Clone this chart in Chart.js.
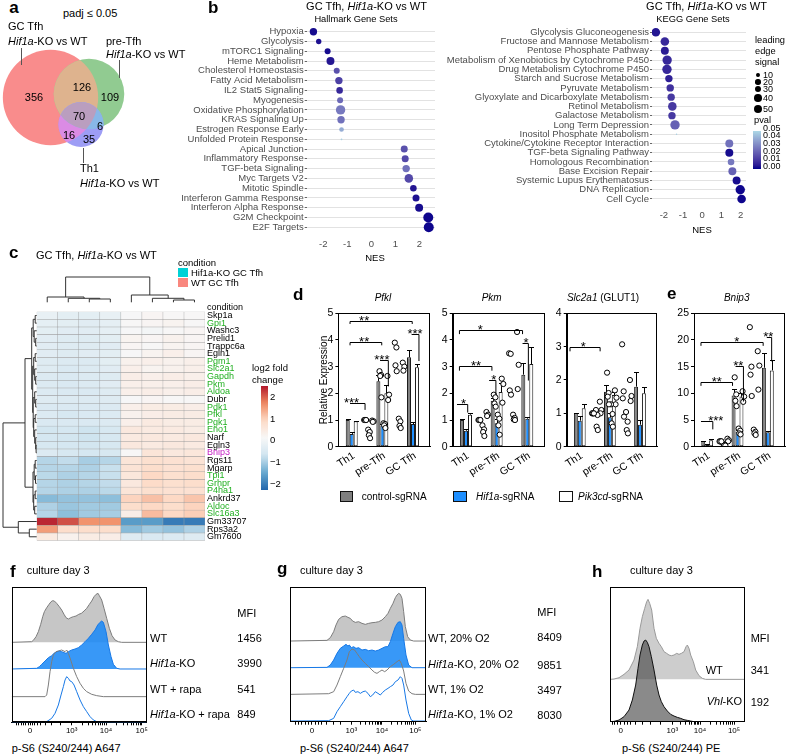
<!DOCTYPE html>
<html><head><meta charset="utf-8">
<script src="https://cdn.jsdelivr.net/npm/chart.js@4.4.1/dist/chart.umd.min.js"></script>
<style>
html,body{margin:0;padding:0;background:#fff;}
body{width:786px;height:756px;position:relative;overflow:hidden;font-family:"Liberation Sans",Arial,Helvetica,sans-serif;}
canvas{position:absolute;}
.t{position:absolute;white-space:nowrap;line-height:1;color:#000;}
.bx{position:absolute;box-sizing:border-box;}
</style></head><body>
<script>
// ================= DATA =================
// (a) Venn region counts
const vennSetNames = ['GC Tfh', 'pre-Tfh', 'Th1'];
const vennOnly = [356, 109, 35];      // GC only, pre only, Th1 only
const vennPairs = [126, 6, 16];       // GC&pre, pre&Th1, GC&Th1
const vennAll = 70;

// (b) GSEA
const hallmarkSets = ['Hypoxia','Glycolysis','mTORC1 Signaling','Heme Metabolism','Cholesterol Homeostasis','Fatty Acid Metabolism','IL2 Stat5 Signaling','Myogenesis','Oxidative Phosphorylation','KRAS Signaling Up','Estrogen Response Early','Unfolded Protein Response','Apical Junction','Inflammatory Response','TGF-beta Signaling','Myc Targets V2','Mitotic Spindle','Interferon Gamma Response','Interferon Alpha Response','G2M Checkpoint','E2F Targets'];
const hallmarkNES = [-2.41,-2.19,-1.82,-1.70,-1.44,-1.35,-1.32,-1.30,-1.28,-1.26,-1.24,-1.24,1.37,1.41,1.45,1.56,1.75,1.86,1.99,2.37,2.39];
const hallmarkSize = [38,20,25,44,25,38,30,25,61,38,15,2,34,34,38,51,30,34,44,69,69];
const hallmarkP = [0.002,0.003,0.002,0.004,0.018,0.014,0.008,0.024,0.028,0.026,0.040,0.048,0.018,0.016,0.026,0.016,0.004,0.003,0.002,0.001,0.001];
const keggSets = ['Glycolysis Gluconeogenesis','Fructose and Mannose Metabolism','Pentose Phosphate Pathway','Metabolism of Xenobiotics by Cytochrome P450','Drug Metabolism Cytochrome P450','Starch and Sucrose Metabolism','Pyruvate Metabolism','Glyoxylate and Dicarboxylate Metabolism','Retinol Metabolism','Galactose Metabolism','Long Term Depression','Inositol Phosphate Metabolism','Cytokine/Cytokine Receptor Interaction','TGF-beta Signaling Pathway','Homologous Recombination','Base Excision Repair','Systemic Lupus Erythematosus','DNA Replication','Cell Cycle'];
const keggNES = [-2.42,-1.95,-1.95,-1.83,-1.84,-1.74,-1.67,-1.62,-1.56,-1.58,-1.42,-1.34,1.41,1.41,1.50,1.57,1.79,1.98,2.05];
const keggSize = [51,51,44,61,61,38,38,38,51,38,61,1.4,44,44,30,44,44,61,51];
const keggP = [0.004,0.008,0.005,0.008,0.008,0.006,0.010,0.012,0.012,0.012,0.022,0.048,0.026,0.002,0.028,0.022,0.002,0.001,0.001];
const nesTicks = [-2,-1,0,1,2];
const sizeLegend = [10,20,30,40,50];
const pvalLegend = ['0.05','0.04','0.03','0.02','0.01','0.00'];

// (c) heatmap
const heatCondition = ['Hif1a-KO GC Tfh','Hif1a-KO GC Tfh','Hif1a-KO GC Tfh','Hif1a-KO GC Tfh','WT GC Tfh','WT GC Tfh','WT GC Tfh','WT GC Tfh'];
const heatGenes = ['Skp1a','Gpi1','Washc3','Prelid1','Trappc6a','Egln1','Pgm1','Slc2a1','Gapdh','Pkm','Aldoa','Dubr','Pdk1','Pfkl','Pgk1','Eno1','Narf','Egln3','Bnip3','Rgs11','Mgarp','Tpi1','Grhpr','P4ha1','Ankrd37','Aldoc','Slc16a3','Gm33707','Rps3a2','Gm7600'];
const heatGeneClass = ['k','g','k','k','k','k','g','g','g','g','g','k','g','g','g','g','k','k','m','k','k','g','g','g','k','g','g','k','k','k'];
const heatLFC = [
[-0.25,-0.35,-0.35,-0.25, 0.05,0.15,0.10,0.10],
[-0.30,-0.35,-0.40,-0.30, 0.10,0.15,0.20,0.10],
[-0.35,-0.40,-0.40,-0.30, 0.05,0.00,0.10,0.15],
[-0.40,-0.45,-0.45,-0.35, 0.20,0.15,0.25,0.15],
[-0.40,-0.45,-0.45,-0.40, 0.15,0.10,0.20,0.15],
[-0.40,-0.45,-0.40,-0.35, 0.05,0.20,0.30,0.15],
[-0.45,-0.50,-0.50,-0.35, 0.25,0.30,0.25,0.30],
[-0.45,-0.55,-0.50,-0.40, 0.30,0.20,0.25,0.30],
[-0.50,-0.55,-0.50,-0.45, 0.35,0.30,0.35,0.30],
[-0.50,-0.55,-0.50,-0.40, 0.30,0.30,0.30,0.35],
[-0.50,-0.55,-0.55,-0.45, 0.30,0.35,0.30,0.35],
[-0.45,-0.50,-0.50,-0.45, 0.05,0.15,0.10,0.10],
[-0.55,-0.55,-0.55,-0.50, 0.30,0.40,0.40,0.35],
[-0.50,-0.60,-0.55,-0.50, 0.25,0.35,0.40,0.40],
[-0.55,-0.55,-0.55,-0.50, 0.30,0.45,0.40,0.40],
[-0.70,-0.65,-0.75,-0.60, 0.50,0.45,0.45,0.40],
[-0.65,-0.70,-0.75,-0.60, 0.45,0.50,0.45,0.50],
[-0.60,-0.65,-0.70,-0.60, 0.50,0.45,0.50,0.45],
[-0.50,-0.60,-0.65,-0.60, 0.10,0.60,0.50,0.55],
[-0.95,-0.85,-1.05,-0.95, 0.60,0.75,0.70,0.65],
[-0.95,-0.95,-1.00,-0.80, 0.65,0.80,0.70,0.75],
[-0.90,-1.00,-0.95,-0.80, 0.55,0.90,0.75,0.80],
[-0.95,-1.00,-0.95,-0.85, 0.50,0.85,0.75,0.80],
[-0.95,-1.00,-1.00,-0.90, 0.60,0.75,0.70,0.70],
[-1.30,-1.20,-1.20,-1.25, 0.95,1.15,0.90,1.10],
[-1.00,-1.15,-1.10,-1.10, 0.80,0.90,0.80,0.95],
[-0.95,-1.25,-1.10,-1.05, 0.35,1.20,0.90,1.00],
[ 2.40, 2.10, 1.60, 1.60,-1.70,-1.70,-2.10,-2.10],
[ 1.50, 0.80, 0.80, 0.80,-1.30,-1.10,-1.20,-1.00],
[ 0.45, 0.25, 0.40, 0.35,-0.45,-0.55,-0.50,-0.45]
];
const heatLegendTicks = [2,1,0,-1,-2];
// dendrograms: [height, left, right], leaves = index
const rowDendro = [33.7,
  [11.7,
    [5,[3.5,[1.5,0,1],[2.5,2,[1,3,4]]],[4,[3,[1.5,5,6],[2,7,[1,8,9]]],[3.5,[2,10,[1,11,12]],[3,[1.5,13,14],[2,15,[1,16,[0.6,17,18]]]]]]],
    [3.7,[2.5,[1.5,19,20],[1.2,21,22]],[3,[1.5,23,24],[2,25,26]]]],
  [18.4,27,[7.4,28,29]]];
const colDendro = [25.3,[5.3,0,[4,1,[3.3,2,3]]],[7.3,4,[4,5,[2.3,6,7]]]];

// (d,e) qPCR
const qpcrGroups = ['Th1','pre-Tfh','GC Tfh'];
const qpcrSeries = ['control-sgRNA','Hif1a-sgRNA','Pik3cd-sgRNA'];
const pfklMean = [[1.0,2.45,3.35],[0.48,0.80,0.85],[0.95,2.0,2.98]];
const pfklSem  = [[0.02,0.22,0.27],[0.07,0.05,0.08],[0.02,0.32,0.12]];
const pfklPts  = [[[1,1,1,1],[2.83,2.69,2.65,1.85],[3.9,3.72,3.05,2.83]],[[0.64,0.55,0.43,0.32],[0.88,0.85,0.8,0.7],[1.05,0.95,0.78,0.7]],[[0.98,0.95,0.93],[2.65,1.95,1.75],[3.15,3.0,2.85]]];
const pkmMean = [[1.0,1.72,2.7],[0.6,0.88,1.05],[1.2,2.05,3.1]];
const pkmSem  = [[0.02,0.1,0.45],[0.08,0.17,0.05],[0.08,0.32,0.62]];
const pkmPts  = [[[1,1,1,1],[1.95,1.85,1.62,1.5],[3.5,3.48,2.11,1.95]],[[0.8,0.65,0.55,0.4],[1.2,1.05,0.8,0.45],[1.2,1.08,1.02,1.0]],[[1.3,1.2,1.15],[2.55,2.35,1.65],[4.3,3.07,2.16]]];
const slcMean = [[1.0,1.65,1.8],[0.78,0.88,0.66],[1.15,1.55,1.6]];
const slcSem  = [[0.02,0.2,0.45],[0.15,0.14,0.15],[0.12,0.1,0.2]];
const slcPts  = [[[1,1,1,1],[2.22,1.61,1.5,1.27],[3.07,1.66,1.45,0.9]],[[1.1,0.95,0.6,0.5],[1.27,0.98,0.7,0.6],[1.04,0.75,0.5,0.4]],[[1.35,1.1,1.0],[1.69,1.47,1.27],[2.0,1.52,1.37]]];
const bnipMean = [[1.0,9.6,14.8],[0.35,2.8,2.7],[1.2,9.4,14.3]];
const bnipSem  = [[0.05,1.2,2.7],[0.08,0.3,0.25],[0.15,0.6,2.0]];
const bnipPts  = [[[1,1,1,1],[13.0,9.8,8.6,7.6],[22.4,15.0,13.5,9.5]],[[0.5,0.35,0.3,0.2],[3.4,3.0,2.5,2.3],[3.2,2.8,2.5,2.2]],[[1.5,1.2,1.0],[10.4,9.4,8.4],[17.9,15.2,10.7]]];
// significance brackets (x in group-index units, y in data units)
const pfklSig = [{x1:-0.12,x2:0.37,y:1.62,dR:1.38,tx:-0.07,t:'***'},{x1:0.86,x2:1.13,y:3.26,dR:2.26,tx:0.92,t:'***'},{x1:1.89,x2:2.13,y:4.21,dR:3.21,tx:2.0,t:'***'},{x1:-0.12,x2:1.91,y:4.73,dL:4.6,dR:4.6,tx:0.34,t:'**'},{x1:-0.12,x2:0.915,y:3.94,dL:3.8,dR:3.8,tx:0.34,t:'**'}];
const pkmSig = [{x1:-0.36,x2:-0.01,y:1.59,dR:1.28,tx:-0.15,t:'*'},{x1:0.69,x2:0.91,y:2.5,dR:1.95,tx:0.84,t:'*'},{x1:1.78,x2:1.97,y:3.87,dR:2.48,tx:1.89,t:'*'},{x1:-0.28,x2:1.78,y:4.39,dL:4.22,dR:4.22,tx:0.4,t:'*'},{x1:-0.28,x2:0.78,y:3.03,dL:2.85,dR:2.85,tx:0.26,t:'**'}];
const slcSig = [{x1:-0.39,x2:0.61,y:2.98,dL:2.86,dR:2.86,tx:0.05,t:'*'}];
const bnipSig = [{x1:-0.27,x2:0.12,y:4.9,dR:3.25,tx:0.22,t:'***'},{x1:0.87,x2:1.13,y:15.07,dR:8.46,tx:0.96,t:'**'},{x1:1.9,x2:2.06,y:20.5,dR:16,tx:1.95,t:'**'},{x1:-0.27,x2:1.78,y:19.67,dL:18.9,dR:18.9,tx:0.91,t:'*'},{x1:-0.27,x2:0.77,y:12.1,dL:11.4,dR:11.4,tx:0.25,t:'**'}];

// (f,g,h) flow histograms: [channel, cell count (a.u.)]
const fWT = [[35,0],[95,2],[100,6],[108,17],[115,32],[122,54],[128,77],[133,92],[140,104],[147,114],[153,122],[158,125],[163,124],[170,117],[178,107],[185,97],[192,84],[198,74],[205,70],[212,74],[220,77],[228,79],[236,84],[244,87],[252,94],[260,102],[268,114],[275,124],[282,137],[288,144],[294,147],[298,140],[305,127],[312,102],[320,72],[328,42],[336,20],[345,7],[355,2],[365,0],[440,0]];
const fKO = [[35,0],[110,2],[118,7],[125,14],[135,24],[145,34],[155,40],[162,47],[170,52],[178,54],[185,52],[192,49],[198,47],[205,52],[215,57],[225,60],[235,64],[245,72],[255,82],[265,92],[275,104],[285,117],[293,132],[300,140],[305,144],[310,140],[318,112],[325,72],[333,37],[340,14],[350,2],[360,0],[440,0]];
const fWTrapa = [[35,0],[135,0],[140,5],[145,35],[150,75],[155,105],[160,125],[168,135],[175,137],[185,140],[195,135],[200,140],[205,130],[212,110],[220,85],[230,60],[240,40],[250,25],[260,15],[275,7],[290,3],[310,0],[440,0]];
const fKOrapa = [[35,0],[140,2],[155,12],[165,27],[175,52],[183,82],[190,107],[195,127],[200,137],[205,132],[210,124],[215,122],[222,112],[230,92],[240,67],[250,47],[260,32],[270,17],[280,7],[290,2],[300,0],[440,0]];
const gWT20 = [[85,0],[195,2],[205,10],[215,28],[222,48],[230,65],[240,73],[250,75],[258,71],[265,68],[272,60],[280,56],[290,58],[300,53],[310,50],[320,53],[330,55],[340,56],[350,58],[360,63],[370,73],[378,83],[385,98],[393,113],[400,130],[405,138],[410,143],[415,140],[420,128],[425,88],[430,43],[437,13],[445,3],[455,0],[492,0]];
const gKO20 = [[85,0],[195,1],[205,8],[215,23],[225,43],[235,58],[245,65],[252,70],[258,65],[262,68],[268,60],[275,63],[282,58],[290,60],[300,53],[310,55],[320,51],[330,53],[340,50],[350,53],[360,58],[370,63],[378,63],[385,78],[393,103],[400,123],[408,136],[415,138],[420,128],[425,88],[432,38],[440,8],[450,0],[492,0]];
const gWT1 = [[85,0],[200,2],[215,8],[225,28],[235,53],[245,78],[255,103],[262,128],[270,136],[278,133],[285,123],[292,113],[300,103],[310,93],[320,83],[330,73],[338,66],[345,63],[352,68],[360,73],[368,68],[375,73],[385,83],[395,90],[405,98],[412,103],[418,93],[425,70],[432,33],[440,10],[450,2],[460,0],[492,0]];
const gKO1 = [[85,0],[200,1],[215,8],[225,28],[235,43],[245,58],[255,73],[262,83],[268,90],[275,93],[280,86],[288,88],[295,83],[303,88],[310,90],[318,83],[325,73],[332,78],[340,88],[348,83],[355,78],[362,86],[370,93],[378,98],[385,103],[393,108],[400,118],[408,123],[415,133],[420,128],[425,108],[432,63],[440,23],[448,3],[455,0],[492,0]];
const hWT = [[258,0],[270,1],[285,5],[300,15],[315,28],[330,58],[340,98],[348,153],[355,188],[362,213],[368,233],[372,240],[377,228],[383,208],[390,153],[397,123],[405,108],[412,98],[420,83],[428,78],[435,73],[442,71],[450,73],[458,78],[465,75],[472,78],[480,83],[486,98],[490,103],[495,93],[500,73],[508,53],[515,28],[525,11],[535,3],[545,0],[662,0]];
const hVhl = [[258,0],[270,1],[285,5],[300,15],[315,35],[325,65],[335,110],[342,160],[348,200],[355,230],[360,242],[365,245],[370,238],[375,225],[382,195],[390,155],[398,110],[405,80],[412,60],[420,45],[430,32],[440,22],[450,17],[460,13],[470,10],[480,6],[490,4],[500,2],[510,0],[662,0]];
const flowTickLabels = ['0','10\u00b3','10\u2074','10\u2075'];
const fMajor = [90,215,318,425], gMajor = [150,268,360,460], hMajor = [290,445,528,630];
const fMFI = ['1456','3990','541','849'];
const gMFI = ['8409','9851','3497','8030'];
const hMFI = ['341','192'];

// ================= HELPERS =================
const FONT = '"Liberation Sans", Arial, Helvetica, sans-serif';
Chart.defaults.font.family = FONT;
Chart.defaults.color = '#000';
Chart.defaults.animation = false;
Chart.defaults.events = [];
Chart.defaults.plugins.legend.display = false;
Chart.defaults.plugins.tooltip.enabled = false;

function cv(x,y,w,h){const c=document.createElement('canvas');c.width=w;c.height=h;c.style.left=x+'px';c.style.top=y+'px';c.style.width=w+'px';c.style.height=h+'px';document.body.appendChild(c);return c;}
function T(html,x,y,size,align,extra){const d=document.createElement('div');d.className='t';d.innerHTML=html;d.style.fontSize=size+'px';d.style.left=x+'px';d.style.top=(y-size*0.5)+'px';if(align==='c')d.style.transform='translateX(-50%)';else if(align==='r')d.style.transform='translateX(-100%)';if(extra)Object.assign(d.style,extra);document.body.appendChild(d);return d;}
function L(ch,x,base){const d=T(ch,x,0,17,'l',{fontWeight:'bold'});d.style.top=(base-0.8465*17)+'px';return d;}
function BX(x,y,w,h,st){const d=document.createElement('div');d.className='bx';d.style.left=x+'px';d.style.top=y+'px';d.style.width=w+'px';d.style.height=h+'px';Object.assign(d.style,st||{});document.body.appendChild(d);return d;}
const base = {responsive:false, maintainAspectRatio:false, devicePixelRatio:1};

// Lab colour interpolation for p-value scale
function s2l(c){c/=255;return c<=0.04045?c/12.92:Math.pow((c+0.055)/1.055,2.4);}
function l2s(c){c=c<=0.0031308?12.92*c:1.055*Math.pow(c,1/2.4)-0.055;return Math.round(Math.max(0,Math.min(1,c))*255);}
function toLab(r,g,b){r=s2l(r);g=s2l(g);b=s2l(b);const x=(0.4124*r+0.3576*g+0.1805*b)/0.95047,y=0.2126*r+0.7152*g+0.0722*b,z=(0.0193*r+0.1192*g+0.9505*b)/1.08883;const f=t=>t>0.008856?Math.cbrt(t):7.787*t+16/116;return [116*f(y)-16,500*(f(x)-f(y)),200*(f(y)-f(z))];}
function fromLab(Lv,a,bb){const fy=(Lv+16)/116,fx=fy+a/500,fz=fy-bb/200;const fi=t=>t*t*t>0.008856?t*t*t:(t-16/116)/7.787;const x=fi(fx)*0.95047,y=fi(fy),z=fi(fz)*1.08883;return [l2s(3.2406*x-1.5372*y-0.4986*z),l2s(-0.9689*x+1.8758*y+0.0415*z),l2s(0.0557*x-0.2040*y+1.0570*z)];}
const labLo=toLab(0,0,139), labHi=toLab(173,216,230);
function pCol(p){const t=Math.max(0,Math.min(1,p/0.05));const c=fromLab(labLo[0]+(labHi[0]-labLo[0])*t,labLo[1]+(labHi[1]-labLo[1])*t,labLo[2]+(labHi[2]-labLo[2])*t);return 'rgb('+c.join(',')+')';}
function sizeToR(n){return 0.6*Math.sqrt(n);}

const rdbuStops=['#2166AC','#67A9CF','#D1E5F0','#F7F7F7','#FDDBC7','#EF8A62','#B2182B'];
const heatMin=-2.35, heatMax=2.5;
function hx(h){return [parseInt(h.slice(1,3),16),parseInt(h.slice(3,5),16),parseInt(h.slice(5,7),16)];}
function rdbu(v){let t=(v-heatMin)/(heatMax-heatMin);t=Math.max(0,Math.min(1,t))*6;const i=Math.min(5,Math.floor(t)),f=t-i;const a=hx(rdbuStops[i]),b=hx(rdbuStops[i+1]);return 'rgb('+a.map((c,k)=>Math.round(c+(b[k]-c)*f)).join(',')+')';}

const framePlugin={id:'frame',afterDraw(c){const a=c.chartArea,ctx=c.ctx;ctx.save();ctx.strokeStyle='#000';ctx.lineWidth=1;const l=Math.round(a.left)+0.5,t=Math.round(a.top)+0.5,r=Math.round(a.right)-0.5,b=Math.round(a.bottom)-0.5;ctx.strokeRect(l,t,r-l,b-t);ctx.restore();}};

// ================= (a) VENN =================
L('a',9.3,13.3);
T('padj \u2264 0.05',63,13,11);
{
  const totals=[vennOnly[0]+vennPairs[0]+vennPairs[2]+vennAll, vennOnly[1]+vennPairs[0]+vennPairs[1]+vennAll, vennOnly[2]+vennPairs[1]+vennPairs[2]+vennAll];
  const centers=[[50.5,97.5],[89,94],[81,124.5]];
  const c=cv(0,0,170,200);
  const vennOverlap={id:'vennOverlap',afterDatasetsDraw(ch){const els=ch.getDatasetMeta(0).data;const ctx=ch.ctx;const circ=i=>{ctx.beginPath();ctx.arc(els[i].x,els[i].y,els[i].options.radius,0,Math.PI*2);};
    const fillIn=(idx,col)=>{ctx.save();for(let k=0;k<idx.length-1;k++){circ(idx[k]);ctx.clip();}circ(idx[idx.length-1]);ctx.fillStyle=col;ctx.fill();ctx.restore();};
    fillIn([0,1],'#DEB38E');fillIn([0,2],'#DB8BE4');fillIn([1,2],'#88B7E8');fillIn([0,1,2],'#BA9EBF');}};
  new Chart(c,{type:'scatter',data:{datasets:[{data:centers.map(p=>({x:p[0],y:p[1]})),pointRadius:totals.map(n=>2.0*Math.sqrt(n)),pointBackgroundColor:['#F98C8C','#91CB91','#9D9DF5'],pointBorderWidth:0}]},
    options:{...base,layout:{autoPadding:false,padding:0},scales:{x:{type:'linear',min:0,max:170,display:false},y:{type:'linear',min:0,max:200,reverse:true,display:false}}},plugins:[vennOverlap]});
  const regionPos=[[34,97],[110,97],[89,139],[82,87],[100,126],[69,135],[79,116]];
  const regionVals=[vennOnly[0],vennOnly[1],vennOnly[2],vennPairs[0],vennPairs[1],vennPairs[2],vennAll];
  regionVals.forEach((v,i)=>T(String(v),regionPos[i][0],regionPos[i][1],11,'c'));
  T(vennSetNames[0],8,26,11); T('<i>Hif1a</i>-KO vs WT',8,41,11);
  T(vennSetNames[1],106,41,11); T('<i>Hif1a</i>-KO vs WT',106,54,11);
  T(vennSetNames[2],80,168,11); T('<i>Hif1a</i>-KO vs WT',80,183,11);
  BX(20.5,48,1,17,{background:'#555'}); BX(118.5,60,1,18,{background:'#555'}); BX(82.5,148,1,15,{background:'#555'});
}

// ================= (b) GSEA dot plots =================
L('b',208,13.3);
function gsea(x0,y0,w,h,padTop,padRight,yW,xH,xmin,xmax,sets,nes,sz,pv){
  const c=cv(x0,y0,w,h);
  new Chart(c,{type:'scatter',data:{datasets:[{data:sets.map((s,i)=>({x:nes[i],y:s})),pointRadius:sz.map(sizeToR),pointBackgroundColor:pv.map(pCol),pointBorderWidth:0}]},
   options:{...base,layout:{autoPadding:false,padding:{top:padTop,right:padRight,left:0,bottom:0}},
    scales:{x:{type:'linear',min:xmin,max:xmax,afterBuildTicks:s=>{s.ticks=nesTicks.map(v=>({value:v}));},grid:{display:false,drawTicks:false},border:{display:false},ticks:{color:'#4d4d4d',font:{size:9.5},padding:6,maxRotation:0,autoSkip:false},afterFit:s=>{s.height=xH;}},
     y:{type:'category',labels:sets,offset:true,grid:{color:'#e2e2e2',lineWidth:1,tickLength:2,tickColor:'#666',offset:false},border:{display:false},ticks:{color:'#4d4d4d',font:{size:9.5},padding:1,autoSkip:false},afterFit:s=>{s.width=yW;}}}}});
}
gsea(150,20,300,250,6.8,15,156.7,37.8,-2.69,2.65,hallmarkSets,hallmarkNES,hallmarkSize,hallmarkP);
gsea(437,20,320,230,7.7,11,215,46.4,-2.62,2.28,keggSets,keggNES,keggSize,keggP);
T('GC Tfh, <i>Hif1a</i>-KO vs WT',366.5,6.5,11,'c');
T('Hallmark Gene Sets',356,19.5,9.3,'c');
T('NES',375,258,9.5,'c');
T('GC Tfh, <i>Hif1a</i>-KO vs WT',706.5,6.5,11,'c');
T('KEGG Gene Sets',693,20,9.3,'c');
T('NES',702,230,9.5,'c');
// legends
T('leading',755,41,9.3); T('edge',755,52,9.3); T('signal',755,63,9.3);
[75,82,89,98,109].forEach((y,i)=>{const r=sizeToR(sizeLegend[i]);BX(758-r,y-r,2*r,2*r,{background:'#000',borderRadius:'50%'});T(String(sizeLegend[i]),763,y,9);});
T('pval',754,121,9.3);
{const stops=[];for(let k=0;k<=10;k++){stops.push(pCol(0.05-0.005*k)+' '+(k*10)+'%');}
 BX(753,131,8,38,{background:'linear-gradient(to bottom,'+stops.join(',')+')'});
 [128,135,143,151,158,166].forEach((y,i)=>T(pvalLegend[i],763,y,9));}

// ================= (c) heatmap =================
L('c',9,258);
T('GC Tfh, <i>Hif1a</i>-KO vs WT',36,255,11);
{
  const c=cv(0,270,250,278);
  const dendro={id:'dendro',afterDraw(ch){const ctx=ch.ctx,ys=ch.scales.y,xs=ch.scales.x,a=ch.chartArea;ctx.save();ctx.strokeStyle='#333';ctx.lineWidth=1;
    const seg=(x1,y1,x2,y2)=>{ctx.beginPath();ctx.moveTo(x1,y1);ctx.lineTo(x2,y2);ctx.stroke();};
    const row=n=>{if(typeof n==='number')return {x:a.left,y:ys.getPixelForValue(n)};const A=row(n[1]),B=row(n[2]);const x=a.left-n[0];seg(A.x,A.y,x,A.y);seg(B.x,B.y,x,B.y);seg(x,A.y,x,B.y);return {x,y:(A.y+B.y)/2};};
    row(rowDendro);
    const bottom=302.3-270;
    const col=n=>{if(typeof n==='number')return {x:xs.getPixelForValue(n+0.5),y:bottom};const A=col(n[1]),B=col(n[2]);const y=bottom-n[0];seg(A.x,A.y,A.x,y);seg(B.x,B.y,B.x,y);seg(A.x,y,B.x,y);return {x:(A.x+B.x)/2,y};};
    col(colDendro);ctx.restore();}};
  const gc={g:'#22B022',k:'#000',m:'#C41EC4'};
  new Chart(c,{type:'bar',data:{labels:heatGenes,datasets:heatCondition.map((_,ci)=>({data:heatGenes.map(()=>1),backgroundColor:heatLFC.map(r=>rdbu(r[ci])),borderColor:'#9a9a9a',borderWidth:0.5,borderSkipped:false,barPercentage:1,categoryPercentage:1}))},
    options:{...base,indexAxis:'y',layout:{autoPadding:false,padding:{left:36.7,top:41.7,right:0,bottom:5.3}},
     scales:{x:{type:'linear',stacked:true,min:0,max:8,display:false},
      y:{stacked:true,position:'right',grid:{display:false,drawTicks:false},border:{display:false},ticks:{autoSkip:false,padding:2,font:{size:9},color:ctx=>gc[heatGeneClass[ctx.index]]},afterFit:s=>{s.width=45;}}}},plugins:[dendro]});
  const c2=cv(0,300,250,14);
  const condCol={'Hif1a-KO GC Tfh':'#00D2D6','WT GC Tfh':'#F9877E'};
  new Chart(c2,{type:'bar',data:{labels:['condition'],datasets:heatCondition.map(k=>({data:[1],backgroundColor:condCol[k],borderColor:'#9a9a9a',borderWidth:0.5,borderSkipped:false,barPercentage:1,categoryPercentage:1}))},
    options:{...base,indexAxis:'y',layout:{autoPadding:false,padding:{left:36.7,top:4,right:0,bottom:3.7}},
     scales:{x:{type:'linear',stacked:true,min:0,max:8,display:false},y:{stacked:true,position:'right',grid:{display:false,drawTicks:false},border:{display:false},ticks:{padding:2,font:{size:9}},afterFit:s=>{s.width=45;}}}}});
  // legends
  T('condition',178,263,9.5);
  BX(178,268,10,9,{background:condCol['Hif1a-KO GC Tfh']}); T('Hif1a-KO GC Tfh',191,273,9.5);
  BX(178,278,10,9,{background:condCol['WT GC Tfh']}); T('WT GC Tfh',191,283,9.5);
  T('log2 fold',252,368,9.5); T('change',252,380,9.5);
  const st=[];for(let k=0;k<=20;k++){const v=heatMax-(heatMax-heatMin)*k/20;st.push(rdbu(v)+' '+(k*5)+'%');}
  BX(261,386,6.5,104,{background:'linear-gradient(to bottom,'+st.join(',')+')'});
  heatLegendTicks.forEach(v=>T(v<0?'\u2212'+Math.abs(v):String(v),270,440-21.7*v,9.5));
}

// ================= (d,e) qPCR bars =================
L('d',293,300); L('e',667,299);
const barFill=['#7f7f7f','#1e8fff','#ffffff'];
const errPlugin={id:'err',afterDatasetDraw(chart,args){const ds=chart.data.datasets[args.index];if(!ds.sem)return;const ys=chart.scales.y,ctx=chart.ctx;ctx.save();ctx.strokeStyle='#000';ctx.lineWidth=1;args.meta.data.forEach((el,i)=>{const m=ds.data[i],e=ds.sem[i];const yt=Math.round(ys.getPixelForValue(m+e))+0.5,yb=ys.getPixelForValue(m);const x=Math.round(el.x)+0.5;ctx.beginPath();ctx.moveTo(x,yb);ctx.lineTo(x,yt);ctx.moveTo(x-2.5,yt);ctx.lineTo(x+2.5,yt);ctx.stroke();});ctx.restore();}};
const sigPlugin={id:'sig',afterDatasetsDraw(chart,args,opts){const xs=chart.scales.x,ys=chart.scales.y,ctx=chart.ctx;const p0=xs.getPixelForValue(0),step=xs.getPixelForValue(1)-p0;const X=v=>p0+v*step;ctx.save();ctx.strokeStyle='#000';ctx.lineWidth=1;ctx.fillStyle='#000';ctx.font='13px '+FONT;ctx.textAlign='center';ctx.textBaseline='alphabetic';
  (opts.items||[]).forEach(s=>{const y=Math.round(ys.getPixelForValue(s.y))+0.5;const x1=X(s.x1),x2=X(s.x2);ctx.beginPath();if(s.dL!=null){ctx.moveTo(x1,ys.getPixelForValue(s.dL));ctx.lineTo(x1,y);}else ctx.moveTo(x1,y);ctx.lineTo(x2,y);if(s.dR!=null)ctx.lineTo(x2,ys.getPixelForValue(s.dR));ctx.stroke();ctx.fillText(s.t,X(s.tx),y+3);});ctx.restore();}};
function qpcr(x0,y0,w,h,yW,padR,yMax,yStep,mean,sem,pts,sigs,yTitle){
  const c=cv(x0,y0,w,h);
  const bw=0.78/3, jit=[-0.22,0.18,-0.05,0.26];
  const ds=[];
  pts.forEach((ser,s)=>{const d=[];ser.forEach((vals,g)=>vals.forEach((v,k)=>d.push({x:g+(s-1)*bw+jit[k]*bw,y:v})));ds.push({type:'scatter',xAxisID:'x2',data:d,pointRadius:2.6,pointBorderWidth:1,pointBorderColor:'#000',pointBackgroundColor:'#fff',order:0});});
  mean.forEach((m,s)=>ds.push({type:'bar',label:qpcrSeries[s],data:m,sem:sem[s],backgroundColor:barFill[s],borderColor:'#1a1a1a',borderWidth:1,borderSkipped:false,barPercentage:1,categoryPercentage:0.78,order:1}));
  new Chart(c,{type:'bar',data:{labels:qpcrGroups,datasets:ds},
   options:{...base,layout:{autoPadding:false,padding:{top:5,right:padR,left:0,bottom:0}},
    plugins:{sig:{items:sigs}},
    scales:{x:{type:'category',offset:true,grid:{display:false,drawTicks:false},border:{color:'#000'},ticks:{font:{size:10.5},color:'#000',minRotation:33,maxRotation:33,padding:3,autoSkip:false},afterFit:s=>{s.height=h-141.7;}},
     x2:{type:'linear',min:-0.5,max:2.5,display:false},
     y:{min:0,max:yMax,ticks:{stepSize:yStep,font:{size:10.5},color:'#000',padding:2},grid:{drawOnChartArea:false,tickLength:3,color:'#000'},border:{color:'#000'},
        title:yTitle?{display:true,text:yTitle,font:{size:10},padding:{top:4,bottom:0}}:{display:false},afterFit:s=>{s.width=yW;}}}},
   plugins:[errPlugin,sigPlugin,framePlugin]});
}
qpcr(314,305,122,180,24.4,5.7,5,1,pfklMean,pfklSem,pfklPts,pfklSig,'Relative Expression');
qpcr(436,305,114,180,16.7,5.4,5,1,pkmMean,pkmSem,pkmPts,pkmSig,null);
qpcr(550,305,112,180,16.7,5,4,1,slcMean,slcSem,slcPts,slcSig,null);
qpcr(672,305,114,180,22,1,25,5,bnipMean,bnipSem,bnipPts,bnipSig,null);
T('<i>Pfkl</i>',383,298,10,'c'); T('<i>Pkm</i>',491.7,298,10,'c'); T('<i>Slc2a1</i> (GLUT1)',603,298,10,'c'); T('<i>Bnip3</i>',736.7,298,10,'c');
BX(340,491,13.3,10.7,{background:barFill[0],border:'1px solid #111'}); T('control-sgRNA',361.7,496.5,10);
BX(452.7,491,14,10.7,{background:barFill[1],border:'1px solid #111'}); T('<i>Hif1a</i>-sgRNA',476,496.5,10);
BX(559,491,14,10.7,{background:barFill[2],border:'1px solid #111'}); T('<i>Pik3cd</i>-sgRNA',578,496.5,10);

// ================= (f,g,h) flow histograms =================
function flow(x0,y0,w,h,A,xmin,xmax,ymax,series,majors,minors){
  const c=cv(x0,y0,w,h);
  const ds=series.map(s=>({data:s.pts.map(p=>({x:p[0],y:p[1]+s.off})),borderColor:s.line,backgroundColor:s.fill||'rgba(0,0,0,0)',fill:s.fill?{value:s.off}:false,borderWidth:1,pointRadius:0,tension:0}));
  const all=[...majors,...minors].sort((a,b)=>a-b);
  new Chart(c,{type:'line',data:{datasets:ds},
   options:{...base,layout:{autoPadding:false,padding:{left:A.L-x0,top:A.T-y0,right:x0+w-A.R,bottom:0}},
    scales:{x:{type:'linear',min:xmin,max:xmax,afterBuildTicks:s=>{s.ticks=all.map(v=>({value:v}));},ticks:{autoSkip:false,maxRotation:0,font:{size:8},padding:1,callback:v=>{const i=majors.indexOf(v);return i<0?'':flowTickLabels[i];}},grid:{drawOnChartArea:false,tickLength:3,color:'#000'},border:{color:'#000'},afterFit:s=>{s.height=y0+h-A.B;}},
     y:{display:false,min:0,max:ymax}}},plugins:[framePlugin]});
}
const GF='#c6c6c6',GL='#7d7d7d',BF='rgba(28,138,246,0.88)',BL='#1778e6';
flow(5,580,150,160,{L:11.7,R:146.7,T:586.7,B:722.3},35,440,407,
  [{pts:fKOrapa,off:0,line:BL},{pts:fWTrapa,off:77,line:GL},{pts:fKO,off:160,line:BL,fill:BF},{pts:fWT,off:240,line:GL,fill:GF}],
  fMajor,[48,56,63,70,77,84,97,104,112,122,135,155,180,246,264,277,287,295,302,308,313,350,369,382,393,401,408,415,420]);
flow(284,580,150,160,{L:290.3,R:426,T:586.7,B:721.7},85,492,405,
  [{pts:gKO1,off:2,line:BL},{pts:gWT1,off:82,line:GL},{pts:gKO20,off:162,line:BL,fill:BF},{pts:gWT20,off:242,line:GL,fill:GF}],
  gMajor,[100,110,120,130,140,160,170,180,195,215,235,296,312,323,332,340,346,351,356,390,408,420,430,438,444,450,455]);
flow(604,580,150,160,{L:610,R:744.7,T:586.7,B:721.7},258,662,405,
  [{pts:hVhl,off:0,line:'#111',fill:'rgba(60,60,60,0.6)'},{pts:hWT,off:127,line:'#9a9a9a',fill:'#cdcdcd'}],
  hMajor,[265,272,280,300,310,320,335,355,380,410,470,485,495,503,510,515,520,524,559,577,589,599,607,614,620,625]);
L('f',10,577); T('culture day 3',26.7,570,11);
L('g',277,574); T('culture day 3',300,570,11);
L('h',592,577); T('culture day 3',630,570,11);
T('WT',150,638.3,11); T('<i>Hif1a</i>-KO',150,663.3,11); T('WT + rapa',150,689,11); T('<i>Hif1a</i>-KO + rapa',150,714.3,11);
T('MFI',237.3,613.3,11); [638.3,663.3,689,714.3].forEach((y,i)=>T(fMFI[i],237.3,y,11));
T('p-S6 (S240/244) A647',11.7,748.3,11);
T('WT, 20% O2',428,638.3,11); T('<i>Hif1a</i>-KO, 20% O2',428,664,11); T('WT, 1% O2',428,689,11); T('<i>Hif1a</i>-KO, 1% O2',428,714.3,11);
T('MFI',537.3,612.3,11); [637.7,665,690,715].forEach((y,i)=>T(gMFI[i],537.3,y,11));
T('p-S6 (S240/244) A647',300,748.3,11);
T('WT',705.7,670,11); T('<i>Vhl</i>-KO',706.7,701.7,11);
T('MFI',750.7,638.3,11); T(hMFI[0],750.7,670,11); T(hMFI[1],750.7,702.3,11);
T('p-S6 (S240/244) PE',622,748.3,11);
</script>
</body></html>
